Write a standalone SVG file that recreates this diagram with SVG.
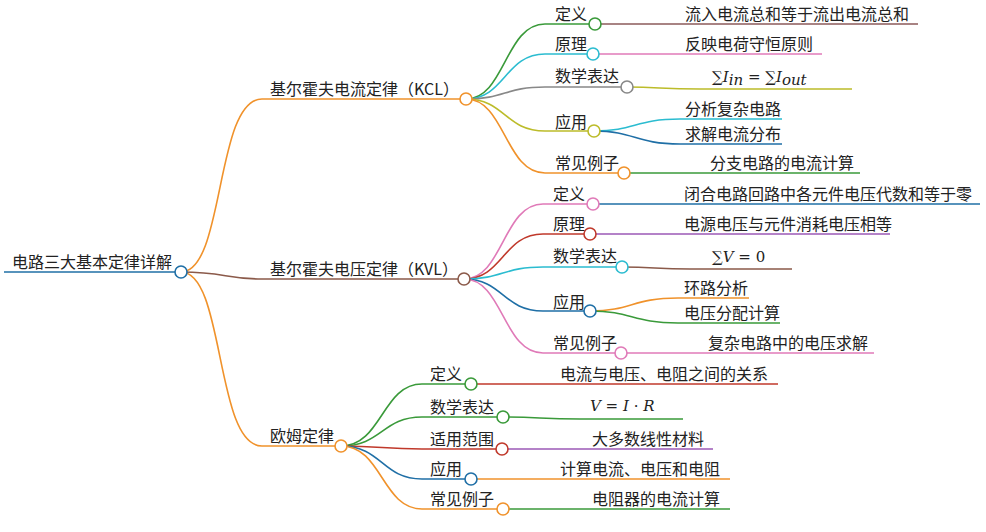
<svg xmlns="http://www.w3.org/2000/svg" width="986" height="532" viewBox="0 0 986 532">
<style>
text{font-family:"Noto Sans CJK SC","Noto Sans",sans-serif;font-size:16px;fill:#222}
.m{font-family:"DejaVu Serif","Liberation Serif",serif;font-style:italic;font-size:15px}
.mu{font-family:"DejaVu Serif","Liberation Serif",serif;font-size:15px}
path,line{fill:none;stroke-width:1.6}
circle{fill:#fff;stroke-width:1.6}
</style>
<g id="connectors">
<line x1="4" y1="272" x2="181" y2="272" stroke="#1f6fa6" stroke-width="3"/>
<path d="M181 272 C225 272 215 99 262 99 H466" stroke="#f0922b"/>
<path d="M181 272 C225 272 225 279 262 279 H464" stroke="#8b5a4a"/>
<path d="M181 272 C225 272 215 446 262 446 H341" stroke="#f0922b"/>
<path d="M466 99 C505 99 505 24 545 24 H595" stroke="#3a9a3a"/>
<path d="M466 99 C505 99 505 54 545 54 H593" stroke="#2bbcd0"/>
<path d="M466 99 C505 99 505 87 545 87 H627" stroke="#888"/>
<path d="M466 99 C505 99 505 131 545 131 H594" stroke="#bcbc2a"/>
<path d="M466 99 C505 99 505 173 545 173 H624" stroke="#f0922b"/>
<line x1="595" y1="24" x2="918" y2="24" stroke="#8b5a5a"/>
<line x1="593" y1="54" x2="822" y2="54" stroke="#e07ab8"/>
<path d="M627 87 C660 87 660 89 700 89 H852" stroke="#bcbc2a"/>
<path d="M594 131 C635 131 635 119 680 119 H782" stroke="#2bbcd0"/>
<path d="M594 131 C635 131 635 144 680 144 H782" stroke="#1f6fa6"/>
<line x1="624" y1="173" x2="860" y2="173" stroke="#3a9a3a"/>
<path d="M464 279 C503 279 503 204 543 204 H593" stroke="#e07ab8"/>
<path d="M464 279 C503 279 503 234 543 234 H590" stroke="#c0392b"/>
<path d="M464 279 C503 279 503 267 543 267 H622" stroke="#2bbcd0"/>
<path d="M464 279 C503 279 503 311 543 311 H590" stroke="#1f6fa6"/>
<path d="M464 279 C503 279 503 353 543 353 H621" stroke="#e07ab8"/>
<line x1="593" y1="204" x2="980" y2="204" stroke="#1f6fa6"/>
<line x1="590" y1="234" x2="890" y2="234" stroke="#9b59b6"/>
<path d="M622 267 C655 267 655 269 690 269 H792" stroke="#8b5a4a"/>
<path d="M590 311 C632 311 632 298 678 298 H749" stroke="#f0922b"/>
<path d="M590 311 C632 311 632 323 678 323 H780" stroke="#3a9a3a"/>
<line x1="621" y1="353" x2="874" y2="353" stroke="#e07ab8"/>
<path d="M341 446 C382 446 382 384 422 384 H471" stroke="#3a9a3a"/>
<path d="M341 446 C382 446 382 417 422 417 H503" stroke="#3a9a3a"/>
<path d="M341 446 C382 446 382 449 422 449 H502" stroke="#c0392b"/>
<path d="M341 446 C382 446 382 479 422 479 H471" stroke="#1f6fa6"/>
<path d="M341 446 C382 446 382 509 422 509 H503" stroke="#f0922b"/>
<line x1="471" y1="384" x2="778" y2="384" stroke="#c0392b"/>
<path d="M503 417 C540 417 540 419 580 419 H683" stroke="#3a9a3a"/>
<line x1="502" y1="449" x2="713" y2="449" stroke="#9b59b6"/>
<line x1="471" y1="479" x2="730" y2="479" stroke="#f0922b"/>
<line x1="503" y1="509" x2="730" y2="509" stroke="#3a9a3a"/>
</g>
<g id="root"><text x="12" y="268">电路三大基本定律详解</text><circle cx="181" cy="272" r="6" stroke="#1f6fa6"/></g>
<g id="kcl"><text x="270" y="95">基尔霍夫电流定律（KCL）</text><circle cx="466" cy="99" r="6" stroke="#f0922b"/></g>
<g id="kvl"><text x="270" y="275">基尔霍夫电压定律（KVL）</text><circle cx="464" cy="279" r="6" stroke="#8b5a4a"/></g>
<g id="ohm"><text x="270" y="442">欧姆定律</text><circle cx="341" cy="446" r="6" stroke="#f0922b"/></g>
<g id="kcl-children">
<text x="555" y="20">定义</text><circle cx="595" cy="24" r="6" stroke="#3a9a3a"/><text x="685" y="20">流入电流总和等于流出电流总和</text>
<text x="555" y="50">原理</text><circle cx="593" cy="54" r="6" stroke="#2bbcd0"/><text x="685" y="50">反映电荷守恒原则</text>
<text x="555" y="82">数学表达</text><circle cx="627" cy="87" r="6" stroke="#888"/>
<text x="712" y="82"><tspan class="mu">∑</tspan><tspan class="m">I</tspan><tspan class="m" font-size="11" dy="3">in</tspan><tspan class="mu" dy="-3"> = ∑</tspan><tspan class="m">I</tspan><tspan class="m" font-size="11" dy="3">out</tspan></text>
<text x="555" y="128">应用</text><circle cx="594" cy="131" r="6" stroke="#bcbc2a"/>
<text x="685" y="115">分析复杂电路</text><text x="685" y="140">求解电流分布</text>
<text x="555" y="169">常见例子</text><circle cx="624" cy="173" r="6" stroke="#f0922b"/><text x="710" y="169">分支电路的电流计算</text>
</g>
<g id="kvl-children">
<text x="553" y="200">定义</text><circle cx="593" cy="204" r="6" stroke="#e07ab8"/><text x="684" y="200">闭合电路回路中各元件电压代数和等于零</text>
<text x="553" y="230">原理</text><circle cx="590" cy="234" r="6" stroke="#c0392b"/><text x="684" y="230">电源电压与元件消耗电压相等</text>
<text x="553" y="262">数学表达</text><circle cx="622" cy="267" r="6" stroke="#2bbcd0"/>
<text x="712" y="262"><tspan class="mu">∑</tspan><tspan class="m">V</tspan><tspan class="mu"> = 0</tspan></text>
<text x="553" y="308">应用</text><circle cx="590" cy="311" r="6" stroke="#1f6fa6"/>
<text x="684" y="294">环路分析</text><text x="684" y="319">电压分配计算</text>
<text x="553" y="349">常见例子</text><circle cx="621" cy="353" r="6" stroke="#e07ab8"/><text x="708" y="349">复杂电路中的电压求解</text>
</g>
<g id="ohm-children">
<text x="430" y="380">定义</text><circle cx="471" cy="384" r="6" stroke="#3a9a3a"/><text x="560" y="380">电流与电压、电阻之间的关系</text>
<text x="430" y="413">数学表达</text><circle cx="503" cy="417" r="6" stroke="#3a9a3a"/>
<text x="590" y="411"><tspan class="m">V</tspan><tspan class="mu"> = </tspan><tspan class="m">I</tspan><tspan class="mu"> · </tspan><tspan class="m">R</tspan></text>
<text x="430" y="445">适用范围</text><circle cx="502" cy="449" r="6" stroke="#c0392b"/><text x="592" y="445">大多数线性材料</text>
<text x="430" y="475">应用</text><circle cx="471" cy="479" r="6" stroke="#1f6fa6"/><text x="560" y="475">计算电流、电压和电阻</text>
<text x="430" y="505">常见例子</text><circle cx="503" cy="509" r="6" stroke="#f0922b"/><text x="592" y="505">电阻器的电流计算</text>
</g>
</svg>
